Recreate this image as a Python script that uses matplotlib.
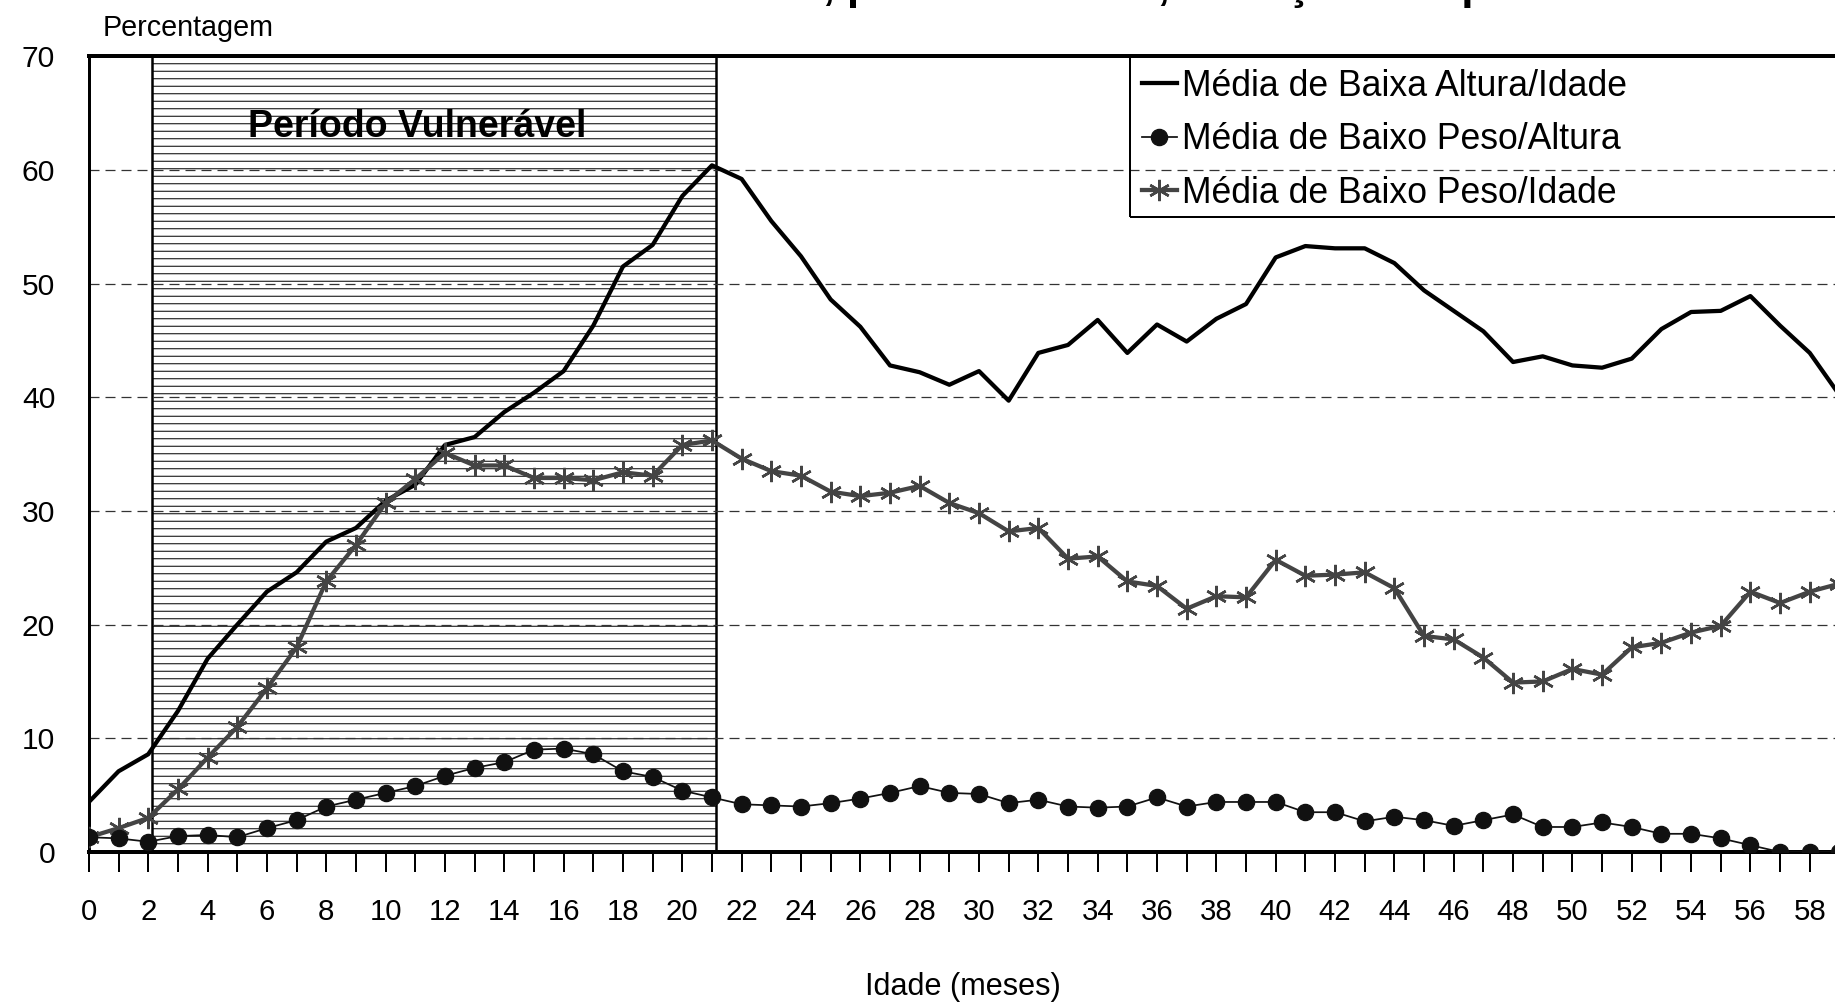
import matplotlib
matplotlib.use("Agg")
import matplotlib.pyplot as plt
from matplotlib.patches import Rectangle

plt.rcParams['font.family'] = ['Liberation Sans', 'DejaVu Sans']
plt.rcParams['hatch.linewidth'] = 0.8

# idade em meses
meses = list(range(0, 60))

altura_idade = [4.4, 7.1, 8.6, 12.4, 17.0, 20.0, 22.9, 24.6, 27.3, 28.5,
                30.9, 32.3, 35.8, 36.5, 38.7, 40.4, 42.3, 46.3, 51.5, 53.4,
                57.7, 60.4, 59.2, 55.5, 52.4, 48.6, 46.2, 42.8, 42.2, 41.1,
                42.3, 39.7, 43.9, 44.6, 46.8, 43.9, 46.4, 44.9, 46.9, 48.2,
                52.3, 53.3, 53.1, 53.1, 51.8, 49.4, 47.6, 45.8, 43.1, 43.6,
                42.8, 42.6, 43.4, 46.0, 47.5, 47.6, 48.9, 46.3, 43.9, 40.2]

peso_altura = [1.3, 1.2, 0.9, 1.4, 1.5, 1.3, 2.1, 2.8, 4.0, 4.6,
               5.2, 5.8, 6.7, 7.4, 7.9, 9.0, 9.1, 8.6, 7.1, 6.6,
               5.4, 4.8, 4.2, 4.1, 4.0, 4.3, 4.7, 5.2, 5.8, 5.2,
               5.1, 4.3, 4.6, 4.0, 3.9, 4.0, 4.8, 4.0, 4.4, 4.4,
               4.4, 3.5, 3.5, 2.7, 3.1, 2.8, 2.3, 2.8, 3.3, 2.2,
               2.2, 2.6, 2.2, 1.6, 1.6, 1.2, 0.6, 0.0, 0.0, 0.0]

peso_idade = [1.3, 2.1, 3.0, 5.5, 8.3, 11.0, 14.4, 18.0, 23.8, 27.0,
              30.7, 32.8, 35.1, 34.0, 34.0, 32.9, 32.9, 32.7, 33.4, 33.1,
              35.8, 36.2, 34.6, 33.5, 33.1, 31.7, 31.3, 31.6, 32.2, 30.7,
              29.8, 28.2, 28.5, 25.8, 26.0, 23.8, 23.4, 21.4, 22.5, 22.4,
              25.7, 24.3, 24.4, 24.6, 23.2, 19.0, 18.7, 17.1, 14.9, 15.0,
              16.1, 15.6, 18.0, 18.4, 19.3, 19.9, 22.9, 21.9, 22.9, 23.6]

periodo_vulneravel = (2.13, 21.13)

W, H, DPI = 1835, 1003, 90
fig = plt.figure(figsize=(W / DPI, H / DPI), dpi=DPI)
ax = fig.add_axes([88.9 / W, 151 / H, 60 * 29.67 / W, (852 - 56.2) / H])

ax.axvspan(periodo_vulneravel[0], periodo_vulneravel[1], facecolor='white',
           edgecolor='black', hatch='--', lw=2.0, zorder=0.2)

ax.plot(meses, altura_idade, color='black', lw=3.4, zorder=3,
        label='Média de Baixa Altura/Idade')
ax.plot(meses, peso_altura, color='#111111', lw=1.4, marker='o', ms=13,
        zorder=4, label='Média de Baixo Peso/Altura')
ax.plot(meses, peso_idade, color='#444444', lw=3.4, marker=(6, 2, 0), ms=17,
        mew=2.0, zorder=3, label='Média de Baixo Peso/Idade')

ax.text(11.05, 62.9, 'Período Vulnerável', ha='center', va='baseline',
        fontsize=30, fontweight='bold', zorder=5)

ax.set_xlim(0, 60)
ax.set_ylim(0, 70)
ax.set_xticks(range(0, 59, 2))
ax.set_xticks(list(range(1, 60, 2)) + [60], minor=True)
ax.set_yticks(range(0, 71, 10))
ax.tick_params(axis='x', which='both', direction='out', length=16, width=1.6,
               pad=21, labelsize=23.5)
ax.tick_params(axis='y', length=0, pad=27, labelsize=24)

ax.set_axisbelow(True)
ax.yaxis.grid(True, color='#333333', lw=1.0, linestyle=(0, (8, 4.8)))

ax.spines['left'].set_linewidth(2.4)
ax.spines['bottom'].set_linewidth(3.2)
ax.spines['top'].set_linewidth(3.2)
ax.spines['right'].set_visible(False)

leg = fig.legend(loc='upper left', bbox_to_anchor=(1142 / W, 1 - 68.5 / H),
                 frameon=False, fontsize=28.5, borderpad=0, borderaxespad=0,
                 handlelength=0.98, handletextpad=0.14, labelspacing=0.525,
                 numpoints=1)
fig.add_artist(Rectangle((1130 / W, 1 - 216.5 / H), (1900 - 1130) / W,
                         (216.5 - 56.2) / H, transform=fig.transFigure,
                         fill=False, ec='black', lw=1.6, clip_on=False))

fig.text(103 / W, 1 - 28 / H, 'Percentagem', fontsize=23, va='center')
fig.text(963 / W, 16 / H, 'Idade (meses)', fontsize=24.5, ha='center', va='center')

# titulo cortado no topo da imagem
fig.text(405 / W, 1 + 1 / H,
         'Déficits nutricionais, por faixa etária, crianças dos povoados',
         fontsize=35, fontweight='bold', va='baseline')

fig.savefig('out.png', dpi=DPI)
